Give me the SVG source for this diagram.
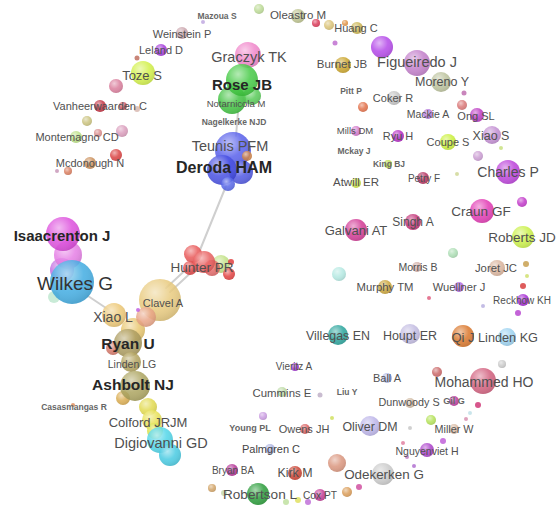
<svg xmlns="http://www.w3.org/2000/svg" width="556" height="506" viewBox="0 0 556 506">
<defs>
<radialGradient id="sh" cx="0.38" cy="0.32" r="0.7">
<stop offset="0" stop-color="#fff" stop-opacity="0.55"/>
<stop offset="0.55" stop-color="#fff" stop-opacity="0.05"/>
<stop offset="1" stop-color="#000" stop-opacity="0.1"/>
</radialGradient>
</defs>
<style>
circle{fill-opacity:0.85}
.s{fill:url(#sh);fill-opacity:1}
text{font-family:"Liberation Sans",Arial,sans-serif;fill:#505050;text-anchor:middle}
.b{font-weight:bold;fill:#262626}
.sb{font-weight:bold;fill:#666}
</style>
<rect width="556" height="506" fill="#fff"/>
<g id="edges" stroke="#cfcfcf" stroke-width="2" fill="none" stroke-linecap="round">
<line x1="238" y1="112" x2="236" y2="136"/>
<line x1="226" y1="186" x2="200" y2="250"/>
<line x1="196" y1="268" x2="170" y2="292"/>
<line x1="192" y1="264" x2="166" y2="288"/>
<line x1="88" y1="296" x2="112" y2="312"/>
</g>
<g id="nodes">
<g id="u1"><circle cx="259" cy="9" r="5" fill="#b8d890"/><circle class="s" cx="259" cy="9" r="5"/></g>
<g id="u2"><circle cx="316" cy="23" r="4" fill="#d83050"/><circle class="s" cx="316" cy="23" r="4"/></g>
<g id="u3"><circle cx="329" cy="25" r="5" fill="#d8c070"/><circle class="s" cx="329" cy="25" r="5"/></g>
<g id="u4"><circle cx="345" cy="23" r="3" fill="#e09040"/><circle class="s" cx="345" cy="23" r="3"/></g>
<g id="u5"><circle cx="335" cy="43" r="2.5" fill="#c070d0"/></g>
<g id="u6"><circle cx="382" cy="47" r="11" fill="#b040e8"/><circle class="s" cx="382" cy="47" r="11"/></g>
<g id="u7"><circle cx="137" cy="58" r="2.5" fill="#c07060"/></g>
<g id="u8"><circle cx="116" cy="86" r="7" fill="#d87898"/><circle class="s" cx="116" cy="86" r="7"/></g>
<g id="u9"><circle cx="123" cy="106" r="4" fill="#d05060"/><circle class="s" cx="123" cy="106" r="4"/></g>
<g id="u10"><circle cx="137" cy="109" r="3" fill="#d8b8b0"/></g>
<g id="u11"><circle cx="87" cy="121" r="5" fill="#c8c078"/><circle class="s" cx="87" cy="121" r="5"/></g>
<g id="u12"><circle cx="98" cy="133" r="4" fill="#d88888"/><circle class="s" cx="98" cy="133" r="4"/></g>
<g id="u13"><circle cx="122" cy="131" r="6" fill="#d898b8"/><circle class="s" cx="122" cy="131" r="6"/></g>
<g id="u14"><circle cx="116" cy="155" r="6" fill="#d83838"/><circle class="s" cx="116" cy="155" r="6"/></g>
<g id="u15"><circle cx="57" cy="171" r="2" fill="#c898b8"/></g>
<g id="u16"><circle cx="68" cy="171" r="4" fill="#d87858"/><circle class="s" cx="68" cy="171" r="4"/></g>
<g id="u17"><circle cx="464" cy="93" r="2.5" fill="#c070b0"/></g>
<g id="u18"><circle cx="363" cy="107" r="5" fill="#e06840"/><circle class="s" cx="363" cy="107" r="5"/></g>
<g id="u19"><circle cx="462" cy="105" r="5" fill="#d87070"/><circle class="s" cx="462" cy="105" r="5"/></g>
<g id="u20"><circle cx="501" cy="148" r="2" fill="#c8e080"/></g>
<g id="u21"><circle cx="478" cy="156" r="5" fill="#c898d0"/><circle class="s" cx="478" cy="156" r="5"/></g>
<g id="u22"><circle cx="457" cy="174" r="2" fill="#d0d898"/></g>
<g id="u23"><circle cx="522" cy="202" r="5" fill="#c030c8"/><circle class="s" cx="522" cy="202" r="5"/></g>
<g id="u24"><circle cx="453" cy="253" r="5" fill="#a8dcb0"/><circle class="s" cx="453" cy="253" r="5"/></g>
<g id="u25"><circle cx="339" cy="274" r="7" fill="#b0e8e0"/><circle class="s" cx="339" cy="274" r="7"/></g>
<g id="u26"><circle cx="526" cy="264" r="3" fill="#c8a050"/></g>
<g id="u27"><circle cx="527" cy="276" r="2" fill="#d0e070"/></g>
<g id="u28"><circle cx="523" cy="286" r="3" fill="#d84040"/></g>
<g id="u29"><circle cx="429" cy="298" r="2" fill="#e06080"/></g>
<g id="u30"><circle cx="483" cy="306" r="2" fill="#b8b0e0"/></g>
<g id="u31"><circle cx="518" cy="313" r="3" fill="#b848d0"/></g>
<g id="u32"><circle cx="502" cy="364" r="4" fill="#c8c8c8"/><circle class="s" cx="502" cy="364" r="4"/></g>
<g id="u33"><circle cx="437" cy="372" r="5" fill="#c86060"/><circle class="s" cx="437" cy="372" r="5"/></g>
<g id="u34"><circle cx="320" cy="395" r="2.5" fill="#c0b0c8"/></g>
<g id="u35"><circle cx="478" cy="405" r="3" fill="#d03878"/></g>
<g id="u36"><circle cx="470" cy="413" r="2" fill="#c0e0e8"/></g>
<g id="u37"><circle cx="431" cy="420" r="5" fill="#b0e050"/><circle class="s" cx="431" cy="420" r="5"/></g>
<g id="u38"><circle cx="466" cy="419" r="2" fill="#d890b0"/></g>
<g id="u39"><circle cx="263" cy="416" r="4" fill="#c898e0"/><circle class="s" cx="263" cy="416" r="4"/></g>
<g id="u40"><circle cx="332" cy="418" r="2" fill="#d0e060"/></g>
<g id="u41"><circle cx="410" cy="428" r="2" fill="#c8c8c8"/></g>
<g id="u42"><circle cx="443" cy="441" r="3" fill="#c060d8"/></g>
<g id="u43"><circle cx="403" cy="443" r="2" fill="#e080a0"/></g>
<g id="u44"><circle cx="407" cy="457" r="2" fill="#c080c0"/></g>
<g id="u45"><circle cx="414" cy="466" r="2" fill="#b070d0"/></g>
<g id="u46"><circle cx="337" cy="463" r="9" fill="#d89078"/><circle class="s" cx="337" cy="463" r="9"/></g>
<g id="u47"><circle cx="212" cy="488" r="4" fill="#d0a060"/><circle class="s" cx="212" cy="488" r="4"/></g>
<g id="u48"><circle cx="224" cy="493" r="3" fill="#c8d8b0"/></g>
<g id="u49"><circle cx="347" cy="492" r="5" fill="#d89850"/><circle class="s" cx="347" cy="492" r="5"/></g>
<g id="u50"><circle cx="359" cy="487" r="3" fill="#d050a0"/></g>
<g id="u51"><circle cx="286" cy="502" r="3" fill="#c0e0a0"/></g>
<g id="u52"><circle cx="298" cy="500" r="3" fill="#e0e060"/></g>
<g id="u53"><circle cx="308" cy="502" r="3" fill="#c070d8"/></g>
<g id="u54"><circle cx="73" cy="405" r="2" fill="#e09060"/></g>
<g id="c-graczyk"><circle cx="248" cy="55" r="13" fill="#f080c8"/><circle class="s" cx="248" cy="55" r="13"/></g>
<g id="c-rose"><circle cx="232" cy="100" r="14" fill="#38c038"/><circle class="s" cx="232" cy="100" r="14"/><circle cx="252" cy="96" r="9" fill="#50c850"/><circle class="s" cx="252" cy="96" r="9"/><circle cx="242" cy="80" r="16" fill="#3cc83c"/><circle class="s" cx="242" cy="80" r="16"/></g>
<g id="c-deroda"><circle cx="233" cy="150" r="18" fill="#5058ea"/><circle class="s" cx="233" cy="150" r="18"/><circle cx="241" cy="172" r="12" fill="#4850e0"/><circle class="s" cx="241" cy="172" r="12"/><circle cx="222" cy="170" r="15" fill="#4048e0"/><circle class="s" cx="222" cy="170" r="15"/><circle cx="228" cy="184" r="7" fill="#5060e8"/><circle class="s" cx="228" cy="184" r="7"/><circle cx="247" cy="156" r="5" fill="#d08040"/><circle class="s" cx="247" cy="156" r="5"/></g>
<g id="c-isaac"><circle cx="62" cy="270" r="12" fill="#c068e0"/><circle class="s" cx="62" cy="270" r="12"/><circle cx="68" cy="255" r="14" fill="#e478e4"/><circle class="s" cx="68" cy="255" r="14"/><circle cx="63" cy="234" r="17" fill="#dc48dc"/><circle class="s" cx="63" cy="234" r="17"/></g>
<g id="c-wilkes"><circle cx="54" cy="297" r="6" fill="#c0e8d0"/><circle cx="72" cy="282" r="22" fill="#38a8e0"/><circle class="s" cx="72" cy="282" r="22"/></g>
<g id="c-hunter"><circle cx="221" cy="264" r="9" fill="#c0e080"/><circle class="s" cx="221" cy="264" r="9"/><circle cx="229" cy="274" r="6" fill="#e03838"/><circle class="s" cx="229" cy="274" r="6"/><circle cx="231" cy="262" r="3" fill="#e04040"/><circle cx="193" cy="254" r="9" fill="#e85050"/><circle class="s" cx="193" cy="254" r="9"/><circle cx="190" cy="268" r="7" fill="#e04040"/><circle class="s" cx="190" cy="268" r="7"/><circle cx="212" cy="268" r="8" fill="#e06060"/><circle class="s" cx="212" cy="268" r="8"/><circle cx="204" cy="262" r="11" fill="#e85858"/><circle class="s" cx="204" cy="262" r="11"/></g>
<g id="c-clavel"><circle cx="160" cy="300" r="21" fill="#e8c878"/><circle class="s" cx="160" cy="300" r="21"/><circle cx="133" cy="330" r="12" fill="#e8c468"/><circle class="s" cx="133" cy="330" r="12"/><circle cx="114" cy="315" r="12" fill="#ecc670"/><circle class="s" cx="114" cy="315" r="12"/><circle cx="146" cy="317" r="10" fill="#e8a080"/><circle class="s" cx="146" cy="317" r="10"/><circle cx="138" cy="310" r="2" fill="#c060e0"/></g>
<g id="c-ryan"><circle cx="113" cy="348" r="7" fill="#d07060"/><circle class="s" cx="113" cy="348" r="7"/><circle cx="128" cy="343" r="14" fill="#a89858"/><circle class="s" cx="128" cy="343" r="14"/><circle cx="131" cy="362" r="10" fill="#b0a058"/><circle class="s" cx="131" cy="362" r="10"/></g>
<g id="c-ashbolt"><circle cx="123" cy="398" r="7" fill="#d8a848"/><circle class="s" cx="123" cy="398" r="7"/><circle cx="135" cy="386" r="15" fill="#a8a058"/><circle class="s" cx="135" cy="386" r="15"/></g>
<g id="c-colford"><circle cx="148" cy="407" r="9" fill="#e0d848"/><circle class="s" cx="148" cy="407" r="9"/><circle cx="152" cy="420" r="10" fill="#e8e050"/><circle class="s" cx="152" cy="420" r="10"/><circle cx="155" cy="431" r="8" fill="#d8e040"/><circle class="s" cx="155" cy="431" r="8"/></g>
<g id="c-digiovanni"><circle cx="160" cy="440" r="13" fill="#48d4e8"/><circle class="s" cx="160" cy="440" r="13"/><circle cx="170" cy="455" r="11" fill="#40c8e0"/><circle class="s" cx="170" cy="455" r="11"/></g>
<g id="n-mazoua"><circle cx="203" cy="22" r="2" fill="#c0a8e0"/><text class="sb" x="217" y="19" font-size="8.5">Mazoua S</text></g>
<g id="n-oleastro"><circle cx="298" cy="16" r="7" fill="#b8c088"/><circle class="s" cx="298" cy="16" r="7"/><text x="298" y="19" font-size="11.5">Oleastro M</text></g>
<g id="n-huang"><circle cx="357" cy="28" r="6" fill="#c8b048"/><circle class="s" cx="357" cy="28" r="6"/><text x="356" y="32" font-size="11">Huang C</text></g>
<g id="n-weinstein"><circle cx="182" cy="33" r="6" fill="#c8a0a8"/><circle class="s" cx="182" cy="33" r="6"/><text x="182" y="38" font-size="11">Weinstein P</text></g>
<g id="n-leland"><circle cx="161" cy="50" r="6" fill="#a030d8"/><circle class="s" cx="161" cy="50" r="6"/><text x="161" y="54" font-size="11">Leland D</text></g>
<g id="n-toze"><circle cx="143" cy="73" r="12" fill="#d0f040"/><circle class="s" cx="143" cy="73" r="12"/><text x="142" y="80" font-size="13">Toze S</text></g>
<g id="n-vanheer"><circle cx="100" cy="106" r="6" fill="#c02838"/><circle class="s" cx="100" cy="106" r="6"/><text x="100" y="110" font-size="11">Vanheerwaarden C</text></g>
<g id="n-montemagno"><circle cx="76" cy="137" r="6" fill="#b8e080"/><circle class="s" cx="76" cy="137" r="6"/><text x="77" y="141" font-size="11">Montemagno CD</text></g>
<g id="n-mcdonough"><circle cx="90" cy="163" r="6" fill="#c88850"/><circle class="s" cx="90" cy="163" r="6"/><text x="90" y="167" font-size="11">Mcdonough N</text></g>
<g id="n-graczyk"><text x="249" y="62" font-size="14.5">Graczyk TK</text></g>
<g id="n-rose"><text class="b" x="242" y="90" font-size="15">Rose JB</text></g>
<g id="n-notarnicola"><text x="236" y="107" font-size="9.5">Notarnicola M</text></g>
<g id="n-nagelkerke"><text class="sb" x="234" y="125" font-size="8.5">Nagelkerke NJD</text></g>
<g id="n-teunis"><text x="230" y="151" font-size="14.5">Teunis PFM</text></g>
<g id="n-deroda"><text class="b" x="224" y="173" font-size="16">Deroda HAM</text></g>
<g id="n-isaac"><text class="b" x="62" y="241" font-size="15">Isaacrenton J</text></g>
<g id="n-wilkes"><text x="75" y="290" font-size="19" style="fill:#333">Wilkes G</text></g>
<g id="n-hunter"><text x="202" y="272" font-size="13.5">Hunter PR</text></g>
<g id="n-clavel"><text x="163" y="307" font-size="11">Clavel A</text></g>
<g id="n-xiaol"><text x="113" y="322" font-size="14">Xiao L</text></g>
<g id="n-ryan"><text class="b" x="128" y="349" font-size="15.5">Ryan U</text></g>
<g id="n-lindenlg"><text x="132" y="368" font-size="10.5">Linden LG</text></g>
<g id="n-ashbolt"><text class="b" x="133" y="390" font-size="15.5">Ashbolt NJ</text></g>
<g id="n-casas"><text class="sb" x="74" y="410" font-size="8.5">Casasmangas R</text></g>
<g id="n-colford"><text x="148" y="427" font-size="13">Colford JRJM</text></g>
<g id="n-digiovanni"><text x="161" y="448" font-size="14.5">Digiovanni GD</text></g>
<g id="n-burnet"><circle cx="343" cy="65" r="8" fill="#c8a020"/><circle class="s" cx="343" cy="65" r="8"/><text x="342" y="68" font-size="11.5">Burnet JB</text></g>
<g id="n-figueiredo"><circle cx="417" cy="63" r="13" fill="#c078c8"/><circle class="s" cx="417" cy="63" r="13"/><text x="417" y="67" font-size="14.5">Figueiredo J</text></g>
<g id="n-moreno"><circle cx="441" cy="82" r="10" fill="#b8c098"/><circle class="s" cx="441" cy="82" r="10"/><text x="442" y="86" font-size="12.5">Moreno Y</text></g>
<g id="n-pitt"><text class="sb" x="351" y="94" font-size="8.5">Pitt P</text></g>
<g id="n-coker"><circle cx="394" cy="98" r="7" fill="#c0c0c0"/><circle class="s" cx="394" cy="98" r="7"/><text x="393" y="102" font-size="11">Coker R</text></g>
<g id="n-mackie"><circle cx="428" cy="114" r="5" fill="#b070d8"/><circle class="s" cx="428" cy="114" r="5"/><text x="428" y="118" font-size="10.5">Mackie A</text></g>
<g id="n-ong"><circle cx="477" cy="115" r="7" fill="#b830c0"/><circle class="s" cx="477" cy="115" r="7"/><text x="476" y="120" font-size="11">Ong SL</text></g>
<g id="n-mills"><circle cx="356" cy="131" r="5" fill="#d070c8"/><circle class="s" cx="356" cy="131" r="5"/><text x="355" y="134" font-size="9.5">Mills DM</text></g>
<g id="n-ryu"><circle cx="398" cy="136" r="6" fill="#b020c0"/><circle class="s" cx="398" cy="136" r="6"/><text x="398" y="140" font-size="11">Ryu H</text></g>
<g id="n-coupe"><circle cx="448" cy="142" r="8" fill="#c8f030"/><circle class="s" cx="448" cy="142" r="8"/><text x="448" y="146" font-size="11">Coupe S</text></g>
<g id="n-xiaos"><circle cx="492" cy="135" r="9" fill="#c088d0"/><circle class="s" cx="492" cy="135" r="9"/><text x="491" y="140" font-size="12.5">Xiao S</text></g>
<g id="n-mckay"><text class="sb" x="354" y="154" font-size="8.5">Mckay J</text></g>
<g id="n-king"><circle cx="388" cy="164" r="4" fill="#b8d838"/><circle class="s" cx="388" cy="164" r="4"/><text class="sb" x="389" y="167" font-size="8.5">King BJ</text></g>
<g id="n-charles"><circle cx="508" cy="172" r="12" fill="#b838d8"/><circle class="s" cx="508" cy="172" r="12"/><text x="508" y="177" font-size="14">Charles P</text></g>
<g id="n-atwill"><circle cx="356" cy="183" r="5" fill="#c8e040"/><circle class="s" cx="356" cy="183" r="5"/><text x="356" y="186" font-size="11.5">Atwill ER</text></g>
<g id="n-petry"><circle cx="423" cy="178" r="6" fill="#b02858"/><circle class="s" cx="423" cy="178" r="6"/><text x="424" y="182" font-size="10">Petry F</text></g>
<g id="n-craun"><circle cx="482" cy="211" r="12" fill="#e030b0"/><circle class="s" cx="482" cy="211" r="12"/><text x="481" y="216" font-size="13.5">Craun GF</text></g>
<g id="n-galvani"><circle cx="356" cy="230" r="11" fill="#d03090"/><circle class="s" cx="356" cy="230" r="11"/><text x="356" y="235" font-size="13">Galvani AT</text></g>
<g id="n-singh"><circle cx="413" cy="222" r="8" fill="#c02870"/><circle class="s" cx="413" cy="222" r="8"/><text x="413" y="226" font-size="12">Singh A</text></g>
<g id="n-roberts"><circle cx="523" cy="237" r="11" fill="#c8f040"/><circle class="s" cx="523" cy="237" r="11"/><text x="522" y="242" font-size="13.5">Roberts JD</text></g>
<g id="n-morris"><circle cx="417" cy="267" r="5" fill="#d0a8a0"/><circle class="s" cx="417" cy="267" r="5"/><text x="418" y="271" font-size="10.5">Morris B</text></g>
<g id="n-joret"><circle cx="497" cy="268" r="8" fill="#d8b098"/><circle class="s" cx="497" cy="268" r="8"/><text x="496" y="272" font-size="11.3">Joret JC</text></g>
<g id="n-murphy"><circle cx="385" cy="287" r="7" fill="#c8a030"/><circle class="s" cx="385" cy="287" r="7"/><text x="385" y="291" font-size="11.3">Murphy TM</text></g>
<g id="n-wuellner"><circle cx="459" cy="287" r="5" fill="#b060e0"/><circle class="s" cx="459" cy="287" r="5"/><text x="459" y="291" font-size="11.2">Wuellner J</text></g>
<g id="n-reckhow"><circle cx="523" cy="300" r="6" fill="#a020d0"/><circle class="s" cx="523" cy="300" r="6"/><text x="522" y="304" font-size="10">Reckhow KH</text></g>
<g id="n-villegas"><circle cx="338" cy="335" r="10" fill="#20a098"/><circle class="s" cx="338" cy="335" r="10"/><text x="338" y="340" font-size="12.4">Villegas EN</text></g>
<g id="n-houpt"><circle cx="410" cy="334" r="10" fill="#c0b8e0"/><circle class="s" cx="410" cy="334" r="10"/><text x="410" y="340" font-size="12.5">Houpt ER</text></g>
<g id="n-qi"><circle cx="463" cy="336" r="11" fill="#d87020"/><circle class="s" cx="463" cy="336" r="11"/><text x="463" y="342" font-size="13">Qi J</text></g>
<g id="n-lindenkg"><circle cx="507" cy="337" r="9" fill="#98d0f0"/><circle class="s" cx="507" cy="337" r="9"/><text x="508" y="342" font-size="12.7">Linden KG</text></g>
<g id="n-mohammed"><circle cx="483" cy="381" r="13" fill="#d05878"/><circle class="s" cx="483" cy="381" r="13"/><text x="484" y="387" font-size="14">Mohammed HO</text></g>
<g id="n-vieritz"><circle cx="295" cy="367" r="4" fill="#a030d0"/><circle class="s" cx="295" cy="367" r="4"/><text x="294" y="370" font-size="10">Vieritz A</text></g>
<g id="n-ball"><circle cx="387" cy="378" r="5" fill="#b0b8e8"/><circle class="s" cx="387" cy="378" r="5"/><text x="387" y="382" font-size="11">Ball A</text></g>
<g id="n-cummins"><circle cx="282" cy="392" r="5" fill="#b8d8a0"/><circle class="s" cx="282" cy="392" r="5"/><text x="282" y="397" font-size="11.4">Cummins E</text></g>
<g id="n-liu"><text class="sb" x="347" y="395" font-size="8.5">Liu Y</text></g>
<g id="n-dunwoody"><circle cx="410" cy="403" r="5" fill="#d0b8a0"/><circle class="s" cx="410" cy="403" r="5"/><text x="409" y="406" font-size="10.8">Dunwoody S</text></g>
<g id="n-gil"><circle cx="454" cy="401" r="5" fill="#b83098"/><circle class="s" cx="454" cy="401" r="5"/><text class="sb" x="454" y="404" font-size="9">Gil G</text></g>
<g id="n-young"><text class="sb" x="250" y="431" font-size="9">Young PL</text></g>
<g id="n-owens"><circle cx="305" cy="429" r="5" fill="#d85858"/><circle class="s" cx="305" cy="429" r="5"/><text x="304" y="433" font-size="11">Owens JH</text></g>
<g id="n-oliver"><circle cx="370" cy="426" r="10" fill="#b8b0e8"/><circle class="s" cx="370" cy="426" r="10"/><text x="370" y="431" font-size="12.4">Oliver DM</text></g>
<g id="n-miller"><circle cx="454" cy="429" r="5" fill="#d8b8a0"/><circle class="s" cx="454" cy="429" r="5"/><text x="454" y="433" font-size="10.8">Miller W</text></g>
<g id="n-palmgren"><circle cx="270" cy="449" r="5" fill="#a8b0e0"/><circle class="s" cx="270" cy="449" r="5"/><text x="271" y="453" font-size="11" style="fill:#444">Palmgren C</text></g>
<g id="n-nguyenviet"><circle cx="427" cy="450" r="7" fill="#a838c8"/><circle class="s" cx="427" cy="450" r="7"/><text x="427" y="455" font-size="10.5">Nguyenviet H</text></g>
<g id="n-bryan"><circle cx="232" cy="470" r="6" fill="#b02890"/><circle class="s" cx="232" cy="470" r="6"/><text x="233" y="474" font-size="10">Bryan BA</text></g>
<g id="n-kirk"><circle cx="295" cy="473" r="7" fill="#c83828"/><circle class="s" cx="295" cy="473" r="7"/><text x="295" y="477" font-size="12.4">Kirk M</text></g>
<g id="n-odekerken"><circle cx="383" cy="474" r="11" fill="#c8c8c8"/><circle class="s" cx="383" cy="474" r="11"/><text x="384" y="479" font-size="13.4">Odekerken G</text></g>
<g id="n-robertson"><circle cx="258" cy="494" r="11" fill="#209830"/><circle class="s" cx="258" cy="494" r="11"/><text x="260" y="499" font-size="13.6">Robertson L</text></g>
<g id="n-cox"><circle cx="320" cy="495" r="6" fill="#c03090"/><circle class="s" cx="320" cy="495" r="6"/><text x="320" y="499" font-size="10.2">Cox PT</text></g>
</g>
</svg>
